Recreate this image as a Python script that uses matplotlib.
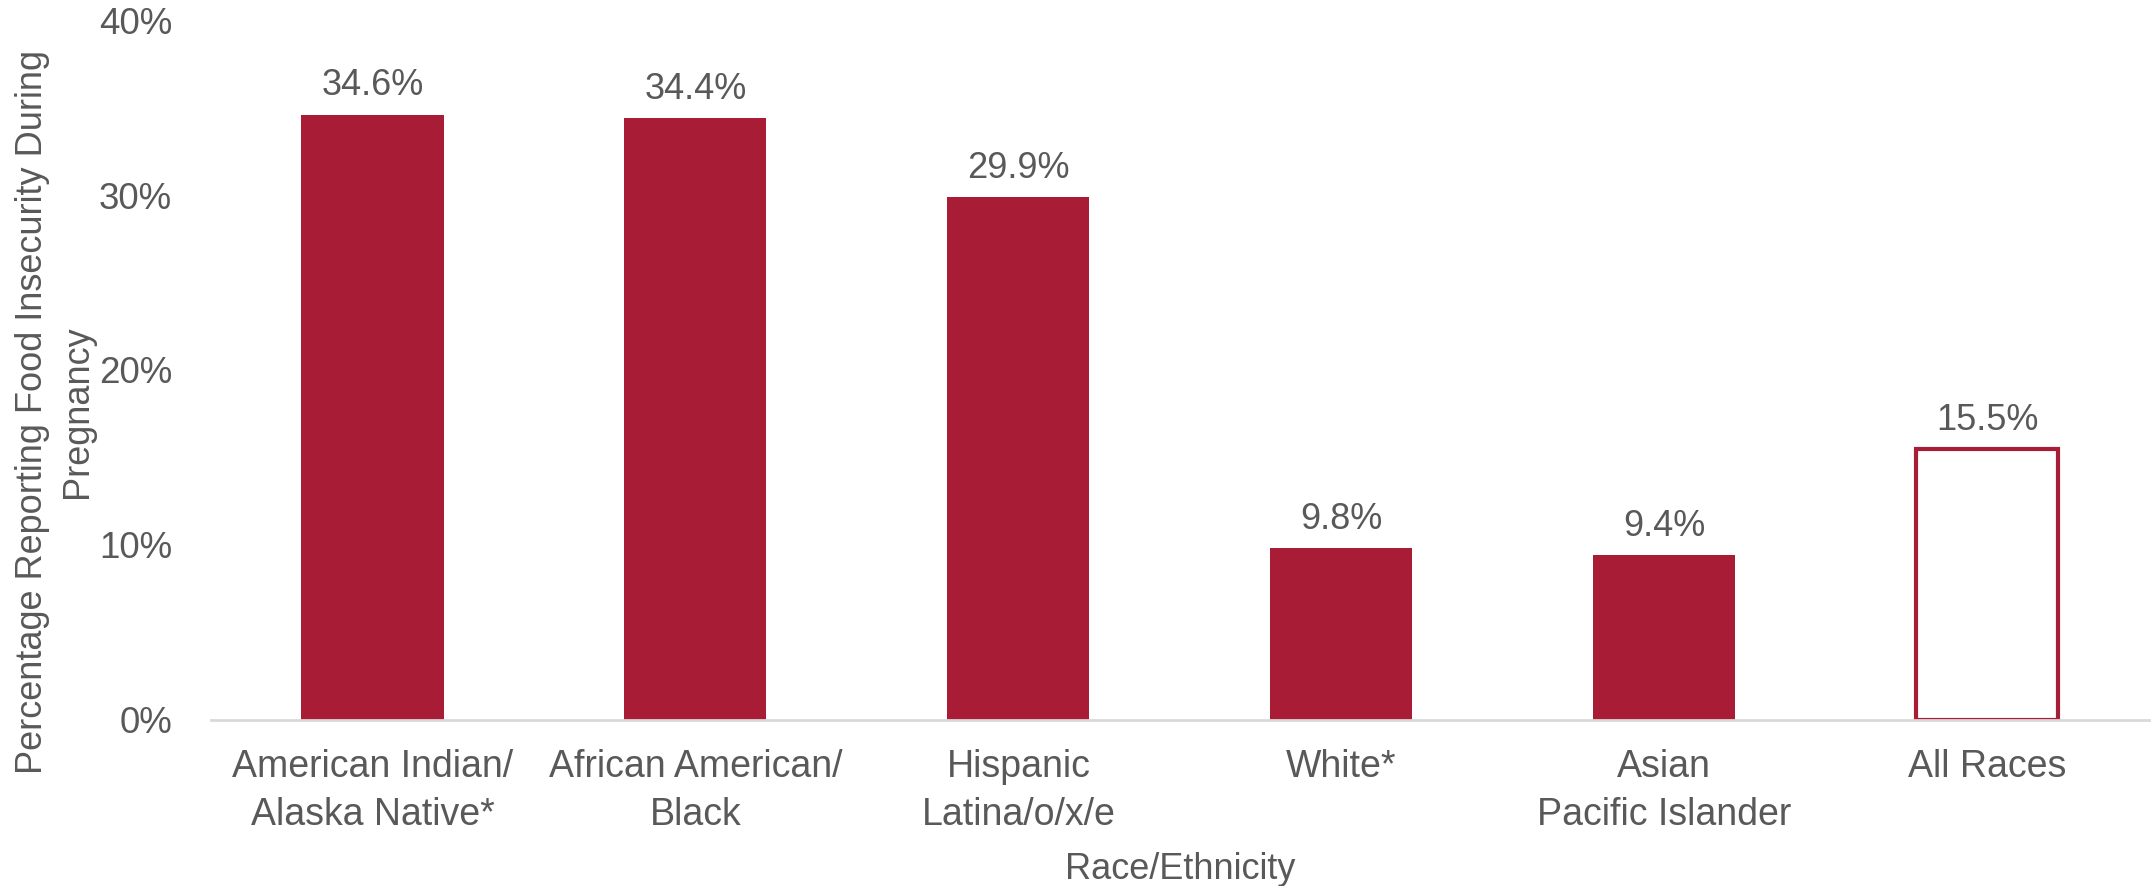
import matplotlib.pyplot as plt
import numpy as np

groups = ["American Indian/\nAlaska Native*", "African American/\nBlack",
          "Hispanic\nLatina/o/x/e", "White*", "Asian\nPacific Islander", "All Races"]
values = [34.6, 34.4, 29.9, 9.8, 9.4, 15.5]
yticks = [0, 10, 20, 30, 40]

red = "#A91C36"
gray = "#595959"

plt.rcParams['font.family'] = ['Liberation Sans', 'DejaVu Sans']

fig = plt.figure(figsize=(21.53, 8.86), dpi=100)
ax = fig.add_axes([0.098, 0.1874, 0.9, 0.79])

x = np.arange(len(groups))
fills = [red] * (len(groups) - 1) + ["white"]
bars = ax.bar(x, values, width=0.44, color=fills, edgecolor=red, linewidth=0)
bars[-1].set_linewidth(3)

for xi, v in zip(x, values):
    ax.annotate(f"{v:.1f}%", (xi, v), xytext=(0, 8), textcoords="offset points",
                ha="center", va="bottom", fontsize=26, color=gray)

ax.set_xlim(-0.5, len(groups) - 0.5)
ax.set_ylim(0, 40)
ax.set_yticks(yticks)
ax.set_yticklabels([f"{t}%" for t in yticks], fontsize=26.5, color=gray)
ax.set_xticks(x)
ax.set_xticklabels(groups, fontsize=27, color=gray, linespacing=1.42)
ax.tick_params(axis='both', length=0)
ax.tick_params(axis='y', pad=28)
ax.tick_params(axis='x', pad=21)

for s in ["top", "right", "left"]:
    ax.spines[s].set_visible(False)
ax.spines["bottom"].set_color("#D9D9D9")
ax.spines["bottom"].set_linewidth(2)

ax.set_xlabel("Race/Ethnicity", fontsize=26, color=gray, labelpad=14)
fig.text(0.007, 0.535, "Percentage Reporting Food Insecurity During\nPregnancy",
         rotation=90, ha="left", va="center", multialignment="center",
         fontsize=26, color=gray, linespacing=1.35)

fig.savefig("out.png", dpi=100)
